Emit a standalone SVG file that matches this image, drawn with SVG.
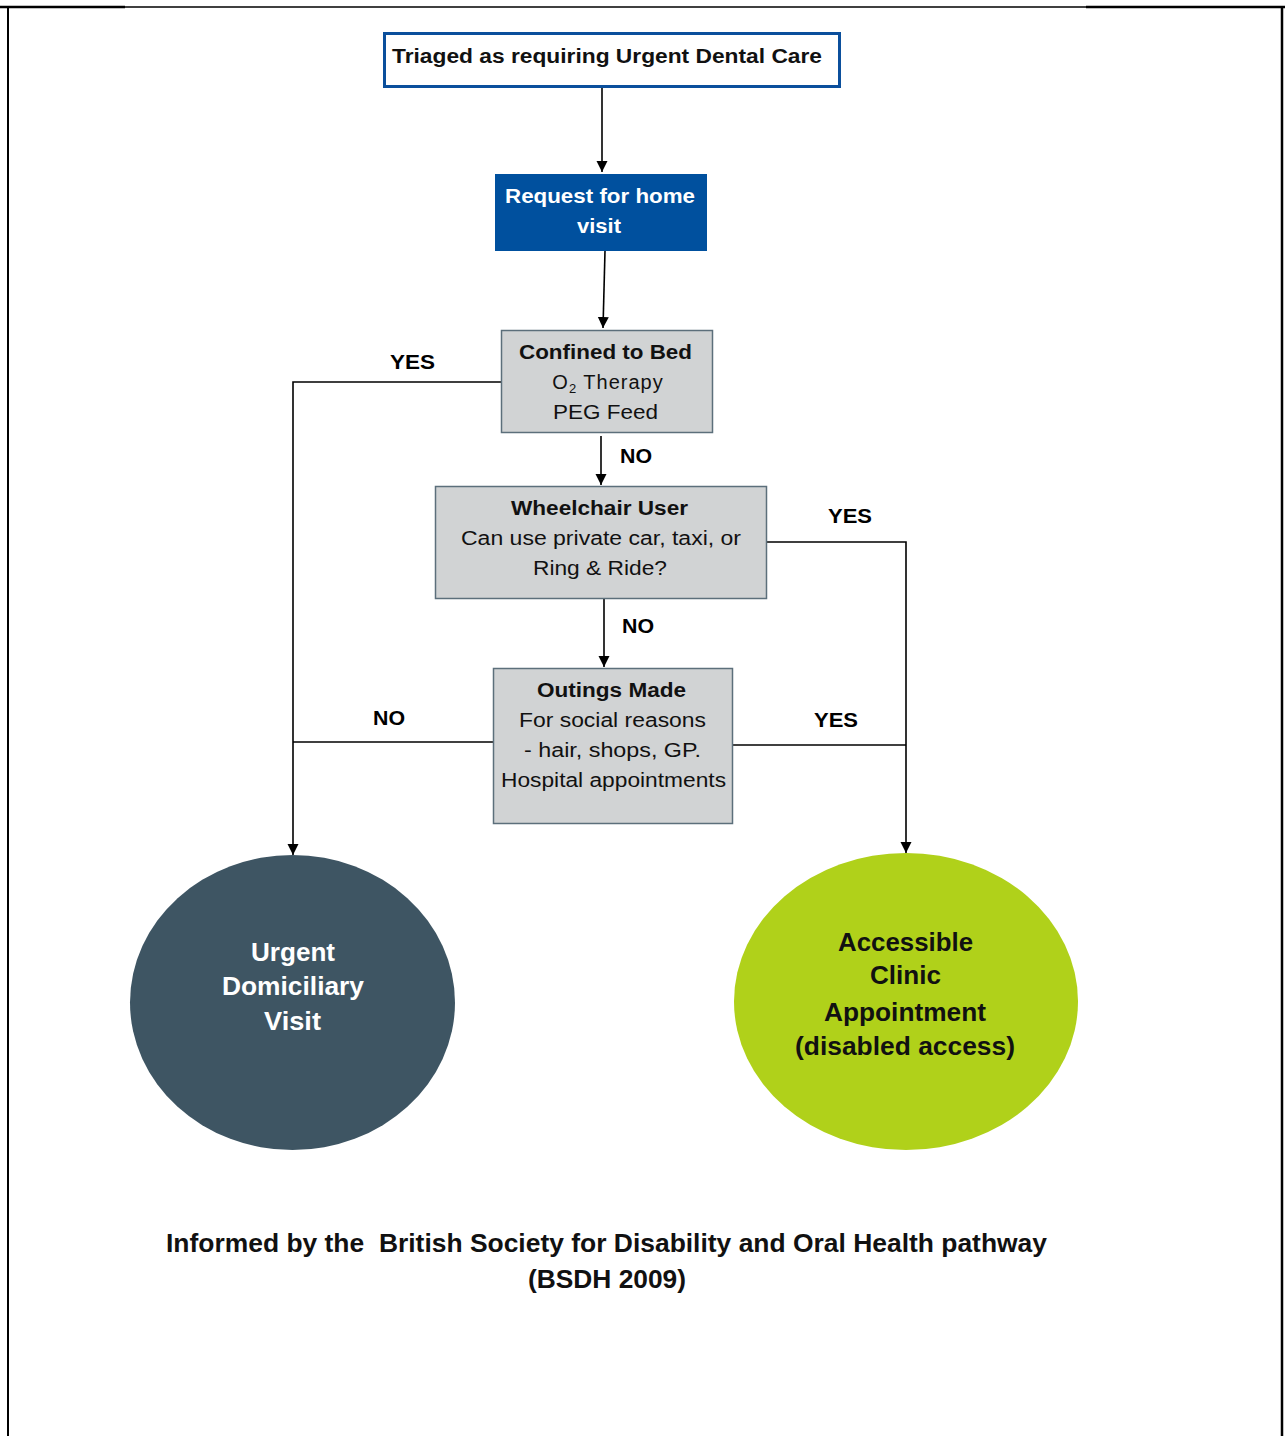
<svg xmlns="http://www.w3.org/2000/svg" width="1285" height="1436" viewBox="0 0 1285 1436">
<defs>
<marker id="arr" markerWidth="11" markerHeight="12" refX="11" refY="5.5" orient="auto" markerUnits="userSpaceOnUse">
<path d="M0,0 L11,5.5 L0,11 Z" fill="#000"/>
</marker>
<style>
text{font-family:"Liberation Sans",Arial,sans-serif;text-anchor:middle}
.b{font-weight:bold}
.box{fill:#d1d3d4;stroke:#5c6f7b;stroke-width:1.5}
.t20{font-size:20px;fill:#111}
.lbl{font-size:20px;font-weight:bold;fill:#000}
.conn{fill:none;stroke:#000;stroke-width:1.6}
.big{font-size:25px;font-weight:bold}
</style>
</defs>
<rect width="1285" height="1436" fill="#fff"/>
<g id="frame" stroke="#000" fill="none">
<line x1="0" y1="7" x2="125" y2="7" stroke-width="2.5"/>
<line x1="125" y1="7" x2="1086" y2="7" stroke-width="1.4"/>
<line x1="1086" y1="7" x2="1285" y2="7" stroke-width="2.5"/>
<line x1="8" y1="7" x2="8" y2="1436" stroke-width="2"/>
<line x1="1282" y1="7" x2="1282" y2="1436" stroke-width="2.5"/>
</g>
<g id="connectors">
<line class="conn" x1="602" y1="88" x2="602" y2="172" marker-end="url(#arr)"/>
<line class="conn" x1="605" y1="251" x2="603" y2="328" marker-end="url(#arr)"/>
<line class="conn" x1="601" y1="436" x2="601" y2="485" marker-end="url(#arr)"/>
<line class="conn" x1="604" y1="599" x2="604" y2="667" marker-end="url(#arr)"/>
<polyline class="conn" points="501,382 293,382 293,855" marker-end="url(#arr)"/>
<line class="conn" x1="493" y1="742" x2="293" y2="742"/>
<polyline class="conn" points="767,542 906,542 906,853" marker-end="url(#arr)"/>
<line class="conn" x1="733" y1="745" x2="906" y2="745"/>
<text class="lbl" x="412.5" y="369" textLength="45" lengthAdjust="spacingAndGlyphs">YES</text>
<text class="lbl" x="636" y="463" textLength="32" lengthAdjust="spacingAndGlyphs">NO</text>
<text class="lbl" x="850" y="523" textLength="44" lengthAdjust="spacingAndGlyphs">YES</text>
<text class="lbl" x="638" y="633" textLength="32" lengthAdjust="spacingAndGlyphs">NO</text>
<text class="lbl" x="389" y="725" textLength="32" lengthAdjust="spacingAndGlyphs">NO</text>
<text class="lbl" x="836" y="727" textLength="44" lengthAdjust="spacingAndGlyphs">YES</text>
</g>
<g id="triaged">
<rect x="384.5" y="33.5" width="455" height="53" fill="#fff" stroke="#0b4f9c" stroke-width="3"/>
<text class="b" x="607" y="63" font-size="20" fill="#111" textLength="430" lengthAdjust="spacingAndGlyphs">Triaged as requiring Urgent Dental Care</text>
</g>
<g id="request">
<rect x="495" y="174" width="212" height="77" fill="#00509e"/>
<text class="b" x="600" y="203" font-size="20" fill="#fff" textLength="190" lengthAdjust="spacingAndGlyphs">Request for home</text>
<text class="b" x="599" y="233" font-size="20" fill="#fff" textLength="44" lengthAdjust="spacingAndGlyphs">visit</text>
</g>
<g id="confined">
<rect class="box" x="501.5" y="330.5" width="211" height="102"/>
<text class="t20 b" x="605.5" y="359" textLength="173" lengthAdjust="spacingAndGlyphs">Confined to Bed</text>
<text class="t20" x="608" y="389" font-size="21" letter-spacing="1">O<tspan font-size="13" dy="4">2</tspan><tspan dy="-4"> Therapy</tspan></text>
<text class="t20" x="605.5" y="419" textLength="105" lengthAdjust="spacingAndGlyphs">PEG Feed</text>
</g>
<g id="wheelchair">
<rect class="box" x="435.5" y="486.5" width="331" height="112"/>
<text class="t20 b" x="599.5" y="515" textLength="177" lengthAdjust="spacingAndGlyphs">Wheelchair User</text>
<text class="t20" x="601" y="545" textLength="280" lengthAdjust="spacingAndGlyphs">Can use private car, taxi, or</text>
<text class="t20" x="600" y="575" textLength="134" lengthAdjust="spacingAndGlyphs">Ring &amp; Ride?</text>
</g>
<g id="outings">
<rect class="box" x="493.5" y="668.5" width="239" height="155"/>
<text class="t20 b" x="611.5" y="697" textLength="149" lengthAdjust="spacingAndGlyphs">Outings Made</text>
<text class="t20" x="612.5" y="727" textLength="187" lengthAdjust="spacingAndGlyphs">For social reasons</text>
<text class="t20" x="612.5" y="757" textLength="177" lengthAdjust="spacingAndGlyphs">- hair, shops, GP.</text>
<text class="t20" x="613.5" y="787" textLength="225" lengthAdjust="spacingAndGlyphs">Hospital appointments</text>
</g>
<g id="domiciliary">
<ellipse cx="292.5" cy="1002.5" rx="162.5" ry="147.5" fill="#3e5563"/>
<text class="big" x="293" y="961" fill="#fff" textLength="84" lengthAdjust="spacingAndGlyphs">Urgent</text>
<text class="big" x="293" y="995" fill="#fff" textLength="142" lengthAdjust="spacingAndGlyphs">Domiciliary</text>
<text class="big" x="292.5" y="1030" fill="#fff" textLength="57" lengthAdjust="spacingAndGlyphs">Visit</text>
</g>
<g id="clinic">
<ellipse cx="906" cy="1001.5" rx="172" ry="148.5" fill="#b0d11a"/>
<text class="big" x="905.5" y="951" fill="#111" textLength="135" lengthAdjust="spacingAndGlyphs">Accessible</text>
<text class="big" x="905.5" y="984" fill="#111" textLength="71" lengthAdjust="spacingAndGlyphs">Clinic</text>
<text class="big" x="905" y="1021" fill="#111" textLength="162" lengthAdjust="spacingAndGlyphs">Appointment</text>
<text class="big" x="905" y="1055" fill="#111" textLength="220" lengthAdjust="spacingAndGlyphs">(disabled access)</text>
</g>
<g id="footer">
<text class="b" x="606.5" y="1252" font-size="25" fill="#111" textLength="881" lengthAdjust="spacingAndGlyphs" xml:space="preserve">Informed by the  British Society for Disability and Oral Health pathway</text>
<text class="b" x="607" y="1288" font-size="25" fill="#111" textLength="158" lengthAdjust="spacingAndGlyphs">(BSDH 2009)</text>
</g>
</svg>
